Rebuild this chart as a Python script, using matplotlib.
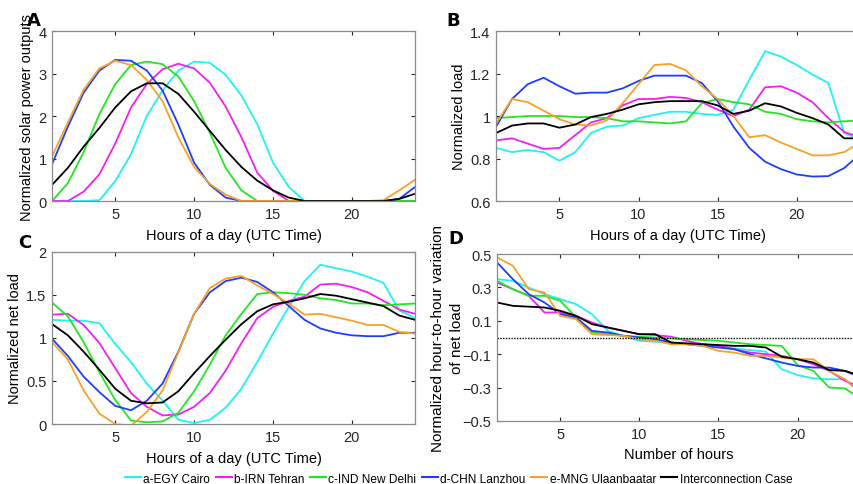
import numpy as np
import matplotlib
matplotlib.use('Agg')
import matplotlib.pyplot as plt
from matplotlib.lines import Line2D

plt.rcParams['font.family'] = ['Liberation Sans', 'DejaVu Sans']

hours = np.arange(1, 25)
rank = np.arange(1, 25)

names = ['a-EGY Cairo', 'b-IRN Tehran', 'c-IND New Delhi', 'd-CHN Lanzhou',
         'e-MNG Ulaanbaatar', 'Interconnection Case']
colors = ['#1ff2f2', '#f21ff2', '#22e622', '#1f3dff', '#f7a226', '#000000']

# A: normalized solar power outputs
solar_cairo = [0, 0, 0, 0.02, 0.47, 1.1, 2.0, 2.6, 3.07, 3.28, 3.25, 2.97, 2.48, 1.81,
               0.9, 0.33, 0, 0, 0, 0, 0, 0, 0, 0]
solar_tehran = [0, 0, 0.22, 0.63, 1.35, 2.2, 2.75, 3.1, 3.23, 3.12, 2.78, 2.22, 1.5, 0.67,
                0.24, 0, 0, 0, 0, 0, 0, 0, 0, 0]
solar_delhi = [0, 0.42, 1.15, 2.05, 2.75, 3.2, 3.28, 3.22, 2.93, 2.35, 1.6, 0.78, 0.25, 0,
               0, 0, 0, 0, 0, 0, 0, 0, 0, 0]
solar_lanzhou = [0.87, 1.75, 2.55, 3.07, 3.32, 3.3, 3.07, 2.6, 1.8, 0.9, 0.38, 0.08, 0, 0,
                 0, 0, 0, 0, 0, 0, 0, 0, 0.05, 0.33]
solar_ulaan = [1.05, 1.85, 2.62, 3.12, 3.3, 3.2, 2.85, 2.35, 1.5, 0.8, 0.4, 0.15, 0, 0,
               0, 0, 0, 0, 0, 0, 0, 0.02, 0.25, 0.5]
solar_inter = [0.38, 0.78, 1.28, 1.72, 2.2, 2.58, 2.77, 2.77, 2.52, 2.1, 1.65, 1.2, 0.8, 0.48,
               0.25, 0.08, 0, 0, 0, 0, 0, 0, 0.05, 0.17]

# B: normalized load
load_cairo = [0.85, 0.83, 0.84, 0.83, 0.79, 0.83, 0.92, 0.95, 0.955, 0.99, 1.005, 1.02, 1.02,
              1.01, 1.005, 1.03, 1.17, 1.305, 1.28, 1.24, 1.195, 1.155, 0.92, 0.89]
load_tehran = [0.885, 0.895, 0.87, 0.845, 0.85, 0.91, 0.97, 0.99, 1.05, 1.08, 1.08, 1.09, 1.085,
               1.065, 1.03, 1.0, 1.03, 1.135, 1.14, 1.11, 1.065, 0.99, 0.925, 0.9]
load_delhi = [0.99, 0.995, 1.0, 1.0, 1.0, 0.995, 0.995, 0.99, 0.975, 0.975, 0.97, 0.965, 0.975,
              1.06, 1.08, 1.065, 1.055, 1.02, 1.01, 0.985, 0.975, 0.97, 0.975, 0.98]
load_lanzhou = [0.95, 1.08, 1.15, 1.18, 1.14, 1.105, 1.11, 1.11, 1.13, 1.165, 1.19, 1.19, 1.19,
                1.155, 1.07, 0.95, 0.85, 0.785, 0.75, 0.725, 0.715, 0.717, 0.755, 0.82]
load_ulaan = [0.965, 1.08, 1.065, 1.025, 0.985, 0.96, 0.955, 0.98, 1.06, 1.15, 1.24, 1.245, 1.215,
              1.14, 1.08, 1.0, 0.9, 0.91, 0.875, 0.845, 0.815, 0.815, 0.83, 0.875]
load_inter = [0.92, 0.955, 0.965, 0.965, 0.945, 0.96, 0.995, 1.01, 1.03, 1.055, 1.065, 1.07, 1.07,
              1.07, 1.05, 1.01, 1.025, 1.06, 1.045, 1.015, 0.99, 0.96, 0.895, 0.895]

# C: normalized net load
net_cairo = [1.21, 1.2, 1.2, 1.17, 0.93, 0.72, 0.47, 0.27, 0.05, 0.01, 0.05, 0.19, 0.41, 0.72,
             1.05, 1.36, 1.66, 1.85, 1.81, 1.77, 1.71, 1.64, 1.32, 1.23]
net_tehran = [1.27, 1.28, 1.15, 0.94, 0.65, 0.36, 0.2, 0.1, 0.11, 0.2, 0.36, 0.62, 0.94, 1.23,
              1.36, 1.43, 1.48, 1.62, 1.63, 1.59, 1.53, 1.43, 1.33, 1.28]
net_delhi = [1.41, 1.25, 0.95, 0.6, 0.28, 0.04, 0.02, 0.03, 0.13, 0.38, 0.69, 1.03, 1.28, 1.51,
             1.53, 1.52, 1.5, 1.46, 1.44, 1.4, 1.4, 1.38, 1.39, 1.4]
net_lanzhou = [0.99, 0.79, 0.55, 0.37, 0.21, 0.16, 0.27, 0.47, 0.84, 1.28, 1.53, 1.66, 1.7, 1.65,
               1.53, 1.37, 1.21, 1.11, 1.06, 1.03, 1.02, 1.02, 1.06, 1.06]
net_ulaan = [0.95, 0.75, 0.39, 0.12, 0.0, -0.02, 0.14, 0.39, 0.83, 1.28, 1.58, 1.69, 1.72, 1.61,
             1.51, 1.4, 1.27, 1.28, 1.24, 1.2, 1.15, 1.15, 1.07, 1.05]
net_inter = [1.16, 1.03, 0.84, 0.63, 0.41, 0.27, 0.24, 0.25, 0.38, 0.59, 0.79, 0.98, 1.16, 1.31,
             1.39, 1.42, 1.46, 1.51, 1.49, 1.45, 1.41, 1.37, 1.26, 1.21]

# D: sorted hour-to-hour variation of net load
var_cairo = [0.35, 0.34, 0.3, 0.26, 0.23, 0.2, 0.14, 0.04, 0.01, -0.02, -0.025, -0.03, -0.04,
             -0.045, -0.055, -0.065, -0.075, -0.085, -0.19, -0.225, -0.245, -0.25, -0.25, -0.33]
var_tehran = [0.33, 0.29, 0.25, 0.15, 0.15, 0.13, 0.09, 0.06, 0.04, 0.02, 0.015, 0.005, -0.02,
              -0.04, -0.05, -0.07, -0.09, -0.1, -0.11, -0.13, -0.16, -0.2, -0.26, -0.3]
var_delhi = [0.34, 0.29, 0.25, 0.25, 0.22, 0.12, 0.03, 0.02, 0.01, 0.005, 0.0, -0.005, -0.01,
             -0.015, -0.02, -0.03, -0.04, -0.045, -0.05, -0.165, -0.2, -0.3, -0.305, -0.37]
var_lanzhou = [0.45, 0.35, 0.26, 0.21, 0.14, 0.12, 0.04, 0.03, 0.01, 0.0, -0.01, -0.03, -0.04,
               -0.05, -0.06, -0.07, -0.1, -0.125, -0.15, -0.17, -0.18, -0.18, -0.2, -0.24]
var_ulaan = [0.48, 0.43, 0.29, 0.27, 0.13, 0.11, 0.02, 0.015, 0.01, -0.01, -0.02, -0.04, -0.04,
             -0.05, -0.08, -0.09, -0.11, -0.11, -0.12, -0.13, -0.13, -0.2, -0.25, -0.34]
var_inter = [0.21, 0.19, 0.185, 0.18, 0.16, 0.13, 0.08, 0.06, 0.04, 0.02, 0.02, -0.03, -0.035,
             -0.04, -0.045, -0.05, -0.05, -0.06, -0.115, -0.13, -0.15, -0.195, -0.2, -0.23]


def style_axes(ax, ylim, yticks, yticklabels=None):
    ax.set_xlim(1, 24)
    ax.set_ylim(*ylim)
    ax.set_xticks([5, 10, 15, 20])
    ax.set_yticks(yticks)
    if yticklabels is not None:
        ax.set_yticklabels(yticklabels)
    ax.tick_params(direction='in', top=True, right=True, length=3, width=0.8,
                   labelsize=10.5, colors='#262626', pad=4)
    for sp in ax.spines.values():
        sp.set_color('#8c8c8c')
        sp.set_linewidth(0.9)


def draw(ax, x, series):
    for s, c in zip(series, colors):
        ax.plot(x, s, color=c, lw=1.3)


fig = plt.figure(figsize=(8.54, 4.85), dpi=100)

ax_a = fig.add_axes([0.061, 0.5835, 0.425, 0.3505])
draw(ax_a, hours, [solar_cairo, solar_tehran, solar_delhi, solar_lanzhou, solar_ulaan, solar_inter])
style_axes(ax_a, (0, 4), [0, 1, 2, 3, 4])
ax_a.set_ylabel('Normalized solar power outputs', fontsize=10.5, labelpad=3)
ax_a.set_xlabel('Hours of a day (UTC Time)', fontsize=10.5, labelpad=5)

ax_b = fig.add_axes([0.581, 0.5835, 0.426, 0.3505])
draw(ax_b, hours, [load_cairo, load_tehran, load_delhi, load_lanzhou, load_ulaan, load_inter])
style_axes(ax_b, (0.6, 1.4), [0.6, 0.8, 1.0, 1.2, 1.4], ['0.6', '0.8', '1', '1.2', '1.4'])
ax_b.set_ylabel('Normalized load', fontsize=10.5, labelpad=3)
ax_b.set_xlabel('Hours of a day (UTC Time)', fontsize=10.5, labelpad=5)

ax_c = fig.add_axes([0.061, 0.1237, 0.425, 0.355])
draw(ax_c, hours, [net_cairo, net_tehran, net_delhi, net_lanzhou, net_ulaan, net_inter])
style_axes(ax_c, (0, 2), [0, 0.5, 1, 1.5, 2], ['0', '0.5', '1', '1.5', '2'])
ax_c.set_ylabel('Normalized net load', fontsize=10.5, labelpad=3)
ax_c.set_xlabel('Hours of a day (UTC Time)', fontsize=10.5, labelpad=5)

ax_d = fig.add_axes([0.582, 0.13, 0.426, 0.344])
draw(ax_d, rank, [var_cairo, var_tehran, var_delhi, var_lanzhou, var_ulaan, var_inter])
ax_d.axhline(0, color='black', lw=1.0, ls=(0, (1, 1)))
style_axes(ax_d, (-0.5, 0.5), [-0.5, -0.3, -0.1, 0.1, 0.3, 0.5])
ax_d.set_ylabel('Normalized hour-to-hour variation\nof net load', fontsize=11,
                labelpad=-1, linespacing=1.45)
ax_d.set_xlabel('Number of hours', fontsize=10.5, labelpad=5)

# panel letters, figure coordinates
letter_pos = {'A': (0.031, 0.976), 'B': (0.523, 0.976), 'C': (0.021, 0.518), 'D': (0.525, 0.526)}
for letter, (lx, ly) in letter_pos.items():
    fig.text(lx, ly, letter, fontsize=13, fontweight='bold', ha='left', va='top',
             family=['DejaVu Sans'])

handles = [Line2D([], [], color=c, lw=1.5) for c in colors]
fig.legend(handles, names, loc='center', bbox_to_anchor=(0.537, 0.011), ncol=6,
           frameon=False, fontsize=8.6, handlelength=1.35, handletextpad=0.2,
           columnspacing=0.45, borderaxespad=0, borderpad=0)

fig.savefig('out.png', dpi=100)
